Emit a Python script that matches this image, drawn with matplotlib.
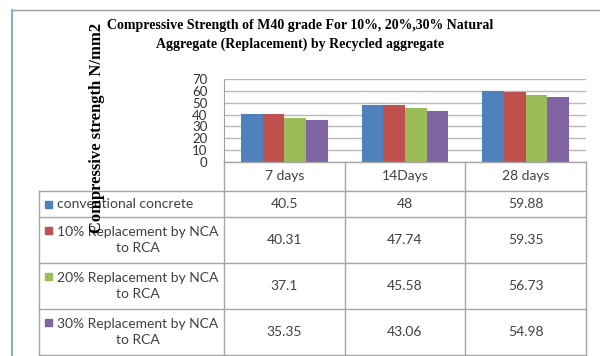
import matplotlib
matplotlib.use("Agg")
import matplotlib.pyplot as plt
from matplotlib.lines import Line2D
from matplotlib.patches import Rectangle

categories = ["7 days", "14Days", "28 days"]
series_names = ["conventional concrete",
                "10% Replacement by NCA\nto RCA",
                "20% Replacement by NCA\nto RCA",
                "30% Replacement by NCA\nto RCA"]
conventional = [40.5, 48, 59.88]
nca10 = [40.31, 47.74, 59.35]
nca20 = [37.1, 45.58, 56.73]
nca30 = [35.35, 43.06, 54.98]
series = [conventional, nca10, nca20, nca30]
value_text = [["40.5", "48", "59.88"],
              ["40.31", "47.74", "59.35"],
              ["37.1", "45.58", "56.73"],
              ["35.35", "43.06", "54.98"]]
colors = ["#4F81BD", "#C0504D", "#9BBB59", "#8064A2"]
yticks = [0, 10, 20, 30, 40, 50, 60, 70]

W, H = 600, 356
fig = plt.figure(figsize=(6, 3.56), dpi=100)
fig.patch.set_facecolor("white")

# chart area in pixels
L, Rt, T, B = 224, 586, 79, 162
ax = fig.add_axes([L / W, 1 - B / H, (Rt - L) / W, (B - T) / H])
ax.set_xlim(-0.5, len(categories) - 0.5)
ax.set_ylim(0, 70)
bw = 0.18
for i, vals in enumerate(series):
    xs = [k + (i - 1.5) * bw for k in range(len(categories))]
    ax.bar(xs, vals, width=bw, color=colors[i], linewidth=0, zorder=3)
ax.set_yticks(yticks)
ax.set_yticklabels([str(v) for v in yticks], family="Lato", fontsize=9.5,
                   color="#333333", linespacing=0.8)
ax.tick_params(axis="y", length=0, pad=12)
ax.set_xticks([])
ax.grid(axis="y", color="#b8b8b8", linewidth=1, zorder=0)
for s in ["top", "right", "bottom"]:
    ax.spines[s].set_visible(False)
ax.spines["left"].set_color("#a0a0a0")

# overlay in pixel coordinates for table, frame, titles
ov = fig.add_axes([0, 0, 1, 1])
ov.set_xlim(0, W)
ov.set_ylim(H, 0)
ov.axis("off")

lc = "#a6a6a6"
# outer frame
ov.add_line(Line2D([12, W + 5], [10, 10], color="#9a9a9a", lw=1))
ov.add_line(Line2D([12, 12], [10, H + 5], color="#6f9bd6", lw=1.2))

# table grid
cols = [L + k * (Rt - L) / len(categories) for k in range(len(categories) + 1)]
rows = [B, 191, 217, 263, 309, 355]
ov.add_line(Line2D([L, Rt], [B, B], color=lc, lw=1))
for y in rows[1:]:
    ov.add_line(Line2D([39, Rt], [y, y], color=lc, lw=1))
ov.add_line(Line2D([39, 39], [rows[1], rows[-1]], color=lc, lw=1))
for x in cols:
    ov.add_line(Line2D([x, x], [B, rows[-1]], color=lc, lw=1))

tc = "#404040"
for j, c in enumerate(categories):
    ov.text((cols[j] + cols[j + 1]) / 2, (rows[0] + rows[1]) / 2, c,
            ha="center", va="center", family="Lato", fontsize=10, color=tc)
for i, name in enumerate(series_names):
    yc = (rows[i + 1] + rows[i + 2]) / 2
    ytop = yc - (9.5 if "\n" in name else 0)
    ov.add_patch(Rectangle((45, ytop - 3.5), 7, 7, color=colors[i]))
    ov.text(57, yc, name, ha="left", va="center", multialignment="center",
            family="Lato", fontsize=10, color=tc, linespacing=1.35)
    for j in range(len(categories)):
        ov.text((cols[j] + cols[j + 1]) / 2, yc, value_text[i][j],
                ha="center", va="center", family="Lato", fontsize=10, color=tc)

ov.text(300, 35, "Compressive Strength of M40 grade For 10%, 20%,30% Natural\n"
        "Aggregate (Replacement) by Recycled aggregate",
        ha="center", va="center", multialignment="center",
        family="Liberation Serif", fontweight="bold", fontsize=10, linespacing=1.5)
ov.text(97, 128, "Compressive strength N/mm2", rotation=90, ha="center", va="center",
        family="Liberation Serif", fontweight="bold", fontsize=12, zorder=10)

fig.savefig("out.png", dpi=100, facecolor="white")
